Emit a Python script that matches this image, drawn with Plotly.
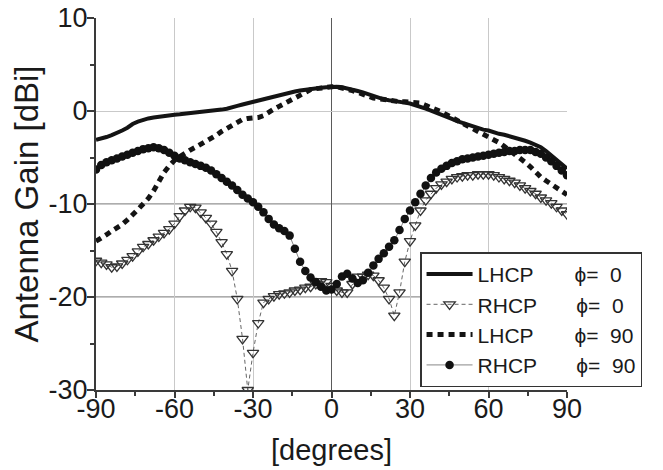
import plotly.graph_objects as go

# ---------------- data ----------------
ANGLE = [-90, -88, -86, -84, -82, -80, -78, -76, -74, -72, -70, -68, -66, -64, -62,
         -60, -58, -56, -54, -52, -50, -48, -46, -44, -42, -40, -38, -36, -34, -32,
         -30, -28, -26, -24, -22, -20, -18, -16, -14, -12, -10, -8, -6, -4, -2,
         0, 2, 4, 6, 8, 10, 12, 14, 16, 18, 20, 22, 24, 26, 28,
         30, 32, 34, 36, 38, 40, 42, 44, 46, 48, 50, 52, 54, 56, 58,
         60, 62, 64, 66, 68, 70, 72, 74, 76, 78, 80, 82, 84, 86, 88, 90]

LHCP_PHI0 = [-3.1, -3.0, -2.8, -2.6, -2.4, -2.1, -1.8, -1.4, -1.15, -0.95, -0.8, -0.7, -0.6, -0.5, -0.45,
             -0.4, -0.35, -0.3, -0.25, -0.2, -0.15, -0.1, 0.0, 0.05, 0.15, 0.25, 0.35, 0.55, 0.7, 0.85,
             0.95, 1.05, 1.2, 1.4, 1.55, 1.7, 1.9, 2.0, 2.1, 2.2, 2.3, 2.4, 2.45, 2.5, 2.55,
             2.6, 2.6, 2.55, 2.45, 2.3, 2.15, 2.0, 1.8, 1.6, 1.4, 1.25, 1.15, 1.1, 1.0, 0.9,
             0.8, 0.65, 0.5, 0.25, 0.05, -0.15, -0.35, -0.6, -0.85, -1.1, -1.3, -1.5, -1.7, -1.9, -2.0,
             -2.1, -2.3, -2.45, -2.55, -2.7, -2.8, -3.0, -3.2, -3.4, -3.6, -3.9, -4.3, -4.8, -5.2, -5.7, -6.2]

RHCP_PHI0 = [-16.1, -16.3, -16.5, -16.8, -16.7, -16.4, -16.0, -15.6, -15.1, -14.6, -14.3, -13.9, -13.5, -13.1, -12.7,
             -12.1, -11.3, -10.7, -10.3, -10.4, -10.9, -11.5, -12.1, -13.0, -14.1, -15.4, -17.2, -20.2, -24.5, -30.0,
             -26.0, -22.8, -20.6, -20.2, -19.9, -19.7, -19.6, -19.5, -19.3, -19.2, -19.0, -18.9, -18.6, -18.3, -18.4,
             -18.8, -19.3, -19.5, -19.5, -18.6, -17.8, -17.8, -17.6, -17.7, -18.2, -19.0, -20.2, -22.0, -19.5, -16.2,
             -14.0, -12.3, -10.7, -9.6, -8.9, -8.3, -7.9, -7.6, -7.3, -7.1, -7.0, -6.9, -6.9, -6.8, -6.8,
             -6.8, -6.9, -7.1, -7.3, -7.5, -7.7, -8.0, -8.3, -8.6, -8.9, -9.3, -9.6, -9.9, -10.3, -10.7, -11.1]

LHCP_PHI90 = [-14.0, -13.7, -13.3, -12.9, -12.6, -12.2, -11.7, -11.2, -10.6, -10.0, -9.4, -8.6, -7.6, -6.6, -5.9,
              -5.3, -4.9, -4.5, -4.2, -3.9, -3.6, -3.3, -3.0, -2.6, -2.2, -1.9, -1.5, -1.2, -0.9, -0.8,
              -0.8, -0.7, -0.5, -0.1, 0.2, 0.5, 0.8, 1.1, 1.4, 1.8, 2.1, 2.3, 2.4, 2.5, 2.55,
              2.6, 2.6, 2.5, 2.3, 2.2, 2.0, 1.85, 1.6, 1.4, 1.3, 1.25, 1.2, 1.1, 1.0, 1.0,
              0.95, 0.9, 0.85, 0.6, 0.4, 0.2, -0.1, -0.4, -0.7, -1.0, -1.3, -1.6, -1.9, -2.1, -2.4,
              -2.7, -3.0, -3.4, -3.8, -4.2, -4.7, -5.1, -5.5, -6.0, -6.6, -7.1, -7.5, -7.9, -8.2, -8.6, -9.0]

RHCP_PHI90 = [-6.3, -5.8, -5.5, -5.3, -5.1, -4.9, -4.7, -4.5, -4.3, -4.1, -4.0, -3.9, -4.0, -4.2, -4.5,
              -4.8, -5.1, -5.3, -5.5, -5.7, -5.9, -6.1, -6.4, -6.8, -7.2, -7.6, -8.0, -8.5, -9.0, -9.4,
              -9.8, -10.3, -10.9, -11.6, -12.2, -12.6, -12.9, -13.4, -14.8, -16.2, -17.2, -17.9, -18.4, -18.9, -19.3,
              -19.2, -18.6, -17.8, -17.5, -18.0, -18.5, -18.2, -17.4, -16.6, -15.9, -15.3, -14.6, -13.9, -12.8, -11.6,
              -10.7, -9.8, -8.9, -8.0, -7.2, -6.6, -6.2, -5.9, -5.6, -5.4, -5.2, -5.1, -5.0, -4.9, -4.8,
              -4.7, -4.6, -4.5, -4.4, -4.3, -4.3, -4.2, -4.2, -4.2, -4.4, -4.6, -5.0, -5.4, -5.9, -6.4, -6.9]

X_TICKS = [-90, -60, -30, 0, 30, 60, 90]
Y_TICKS = [10, 0, -10, -20, -30]
DARK_GRID_X = [60]
DARK_GRID_Y = [-10, -20]

NB = "\u00a0"
NAMES = ["LHCP" + NB * 7 + "ϕ=" + NB * 2 + "0",
         "RHCP" + NB * 6 + "\u2009" + "ϕ=" + NB * 2 + "0",
         "LHCP" + NB * 7 + "ϕ=" + NB * 2 + "90",
         "RHCP" + NB * 6 + "\u2009" + "ϕ=" + NB * 2 + "90"]

FONT = "Liberation Sans, Arial, sans-serif"
AXC = "#3a3a3a"
LIGHT = "#c9c9c9"
DARK = "#5a5a5a"

fig = go.Figure()
fig.add_trace(go.Scatter(x=ANGLE, y=LHCP_PHI0, mode="lines", name=NAMES[0],
                         line=dict(color="#141414", width=4)))
fig.add_trace(go.Scatter(x=ANGLE, y=RHCP_PHI0, mode="lines+markers", name=NAMES[1],
                         line=dict(color="#666666", width=1, dash="4px,3px"),
                         marker=dict(symbol="triangle-down-open", size=10, color="#333333",
                                     line=dict(width=1.3, color="#333333"))))
fig.add_trace(go.Scatter(x=ANGLE, y=LHCP_PHI90, mode="lines", name=NAMES[2],
                         line=dict(color="#141414", width=5, dash="6px,5px")))
fig.add_trace(go.Scatter(x=ANGLE, y=RHCP_PHI90, mode="lines+markers", name=NAMES[3],
                         line=dict(color="#888888", width=1),
                         marker=dict(symbol="circle", size=8.5, color="#111111")))

shapes = []
for gx in DARK_GRID_X:
    shapes.append(dict(type="line", xref="x", yref="y", x0=gx, x1=gx, y0=-30, y1=10,
                       line=dict(color=DARK, width=1), layer="below"))
for gy in DARK_GRID_Y:
    shapes.append(dict(type="line", xref="x", yref="y", x0=-90, x1=90, y0=gy, y1=gy,
                       line=dict(color=DARK, width=1), layer="below"))

fig.update_layout(
    width=663, height=470,
    margin=dict(l=88, r=104, t=10, b=88, autoexpand=False),
    paper_bgcolor="white", plot_bgcolor="white",
    font=dict(family=FONT, color="#1a1a1a", size=27),
    showlegend=True,
    shapes=shapes,
    xaxis=dict(range=[-90, 90], tickvals=X_TICKS, ticktext=[str(v) for v in X_TICKS],
               automargin=False, ticklabelstandoff=-12, ticklabeloverflow="allow",
               ticks="outside", ticklen=6, tickwidth=1.5, tickcolor=AXC,
               showline=True, linecolor=AXC, linewidth=2, mirror=False,
               showgrid=True, gridcolor=LIGHT, gridwidth=1,
               zeroline=True, zerolinecolor=DARK, zerolinewidth=1,
               minor=dict(dtick=15, tick0=-90, ticks="outside", ticklen=4, tickcolor=AXC, showgrid=False),
               tickfont=dict(size=27),
               title=dict(text="[degrees]", font=dict(size=29), standoff=16)),
    yaxis=dict(range=[-30, 10], tickvals=Y_TICKS, ticktext=[str(v) for v in Y_TICKS],
               automargin=False, ticklabelstandoff=-6, ticklabeloverflow="allow",
               ticks="outside", ticklen=7, tickwidth=1.5, tickcolor=AXC,
               showline=True, linecolor=AXC, linewidth=2, mirror=False,
               showgrid=True, gridcolor=LIGHT, gridwidth=1,
               zeroline=True, zerolinecolor=LIGHT, zerolinewidth=1,
               minor=dict(dtick=5, tick0=0, ticks="outside", ticklen=4, tickcolor=AXC, showgrid=False),
               tickfont=dict(size=27),
               title=dict(text="Antenna Gain [dBi]", font=dict(size=33), standoff=12)),
    xaxis2=dict(overlaying="x", side="top", anchor="y", range=[-90, 90], tickvals=X_TICKS,
                automargin=False,
                showticklabels=False, ticks="inside", ticklen=5, tickwidth=1.5, tickcolor=AXC,
                showline=True, linecolor=AXC, linewidth=2, showgrid=False, zeroline=False,
                minor=dict(dtick=15, tick0=-90, ticks="inside", ticklen=3, tickcolor=AXC, showgrid=False)),
    yaxis2=dict(overlaying="y", side="right", anchor="x", range=[-30, 10], tickvals=Y_TICKS,
                automargin=False,
                showticklabels=False, ticks="inside", ticklen=5, tickwidth=1.5, tickcolor=AXC,
                showline=True, linecolor=AXC, linewidth=2, showgrid=False, zeroline=False,
                minor=dict(dtick=5, tick0=0, ticks="inside", ticklen=3, tickcolor=AXC, showgrid=False)),
    legend=dict(x=0.688, y=0.37, xanchor="left", yanchor="top",
                bgcolor="white", bordercolor="#333333", borderwidth=1.5,
                font=dict(size=21, family=FONT), itemwidth=46, tracegroupgap=0,
                traceorder="normal"),
)

fig.write_html("out.html")
